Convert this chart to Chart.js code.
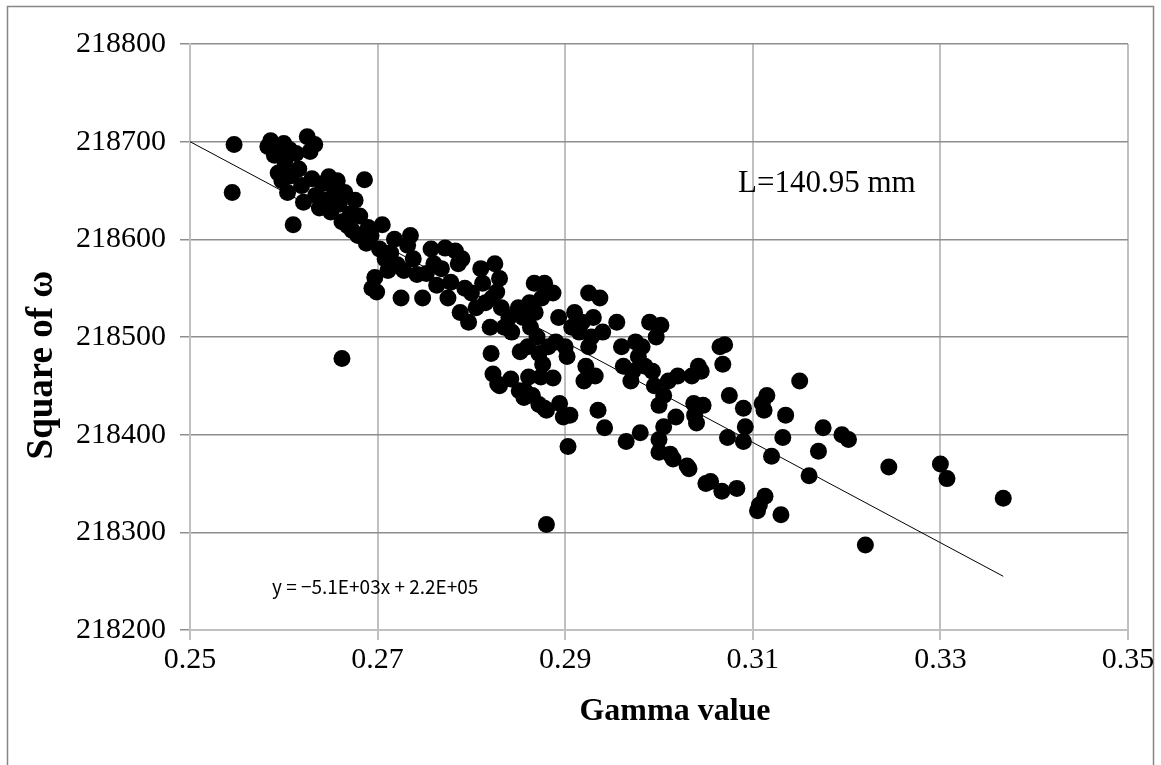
<!DOCTYPE html>
<html>
<head>
<meta charset="utf-8">
<script src="https://cdn.jsdelivr.net/npm/chart.js@4"></script>
<style>
  body { margin: 0; background: #fff; }
  #wrap { width: 1161px; height: 765px; }
</style>
</head>
<body>
<div id="wrap"><canvas id="chart" width="1161" height="765"></canvas></div>
<script>
// gamma value (x) and square of omega (y)
const gammaValues = [
  0.2547, 0.2545, 0.2583, 0.2586, 0.2590, 0.2594, 0.2598, 0.2600, 0.2601, 0.2604,
  0.2606, 0.2608, 0.2610, 0.2613, 0.2616, 0.2619, 0.2621, 0.2625, 0.2628, 0.2630,
  0.2633, 0.2634, 0.2638, 0.2641, 0.2645, 0.2648, 0.2650, 0.2654, 0.2657, 0.2659,
  0.2662, 0.2662, 0.2665, 0.2668, 0.2671, 0.2673, 0.2676, 0.2679, 0.2681, 0.2686,
  0.2688, 0.2690, 0.2693, 0.2694, 0.2697, 0.2699, 0.2702, 0.2705, 0.2708, 0.2711,
  0.2714, 0.2718, 0.2721, 0.2725, 0.2728, 0.2732, 0.2735, 0.2738, 0.2742, 0.2748,
  0.2752, 0.2757, 0.2760, 0.2763, 0.2768, 0.2772, 0.2775, 0.2778, 0.2783, 0.2786,
  0.2790, 0.2788, 0.2793, 0.2797, 0.2800, 0.2805, 0.2810, 0.2812, 0.2815, 0.2820,
  0.2822, 0.2825, 0.2827, 0.2830, 0.2832, 0.2835, 0.2821, 0.2823, 0.2828, 0.2830,
  0.2842, 0.2840, 0.2843, 0.2851, 0.2856, 0.2850, 0.2852, 0.2855, 0.2857, 0.2861,
  0.2860, 0.2862, 0.2863, 0.2865, 0.2867, 0.2868, 0.2870, 0.2872, 0.2876, 0.2875,
  0.2874, 0.2878, 0.2878, 0.2880, 0.2882, 0.2887, 0.2887, 0.2890, 0.2893, 0.2894,
  0.2898, 0.2900, 0.2902, 0.2903, 0.2905, 0.2907, 0.2910, 0.2915, 0.2918, 0.2920,
  0.2922, 0.2925, 0.2925, 0.2928, 0.2930, 0.2932, 0.2935, 0.2937, 0.2940, 0.2942,
  0.2955, 0.2960, 0.2962, 0.2965, 0.2970, 0.2972, 0.2975, 0.2978, 0.2980, 0.2982,
  0.2985, 0.2990, 0.2993, 0.2995, 0.2997, 0.3000, 0.3000, 0.3000, 0.3002, 0.3005,
  0.3005, 0.3010, 0.3012, 0.3015, 0.3018, 0.3020, 0.3030, 0.3032, 0.3035, 0.3037,
  0.3038, 0.3040, 0.3042, 0.3045, 0.3047, 0.3050, 0.3055, 0.3065, 0.3067, 0.3068,
  0.3070, 0.3073, 0.3075, 0.3083, 0.3090, 0.3092, 0.3090, 0.3105, 0.3107, 0.3110,
  0.3112, 0.3113, 0.3115, 0.3120, 0.3130, 0.3132, 0.3135, 0.3150, 0.3160, 0.3170,
  0.3175, 0.3195, 0.3202, 0.3220, 0.3245, 0.3300, 0.3307, 0.3367, 0.2880, 0.2872
];
const omegaSquared = [
  218697, 218648, 218695, 218701, 218686, 218668, 218660, 218698, 218680, 218648,
  218692, 218665, 218615, 218688, 218672, 218655, 218638, 218705, 218690, 218662,
  218697, 218645, 218632, 218657, 218640, 218664, 218628, 218648, 218660, 218636,
  218618, 218478, 218648, 218614, 218626, 218609, 218640, 218604, 218624, 218661,
  218596, 218612, 218604, 218550, 218561, 218546, 218590, 218615, 218580, 218568,
  218586, 218600, 218574, 218540, 218568, 218594, 218604, 218580, 218564, 218540,
  218565, 218590, 218575, 218553, 218570, 218591, 218540, 218556, 218588, 218575,
  218580, 218525, 218550, 218515, 218545, 218530, 218570, 218555, 218535, 218510,
  218540, 218575, 218546, 218560, 218530, 218510, 218483, 218462, 218452, 218450,
  218457, 218520, 218505, 218445, 218438, 218530, 218485, 218520, 218445, 218459,
  218490, 218535, 218510, 218440, 218555, 218525, 218500, 218483, 218472, 218540,
  218459, 218555, 218427, 218425, 218490, 218458, 218545, 218495, 218520, 218432,
  218418, 218490, 218480, 218388, 218420, 218510, 218525, 218505, 218515, 218455,
  218470, 218545, 218490, 218500, 218520, 218460, 218425, 218540, 218505, 218407,
  218515, 218490, 218470, 218393, 218455, 218465, 218495, 218480, 218402, 218490,
  218470, 218515, 218465, 218450, 218500, 218430, 218395, 218382, 218512, 218440,
  218408, 218455, 218380, 218375, 218418, 218460, 218368, 218365, 218460, 218432,
  218420, 218412, 218470, 218465, 218430, 218350, 218352, 218490, 218342, 218472,
  218492, 218397, 218440, 218345, 218427, 218408, 218393, 218322, 218328, 218432,
  218425, 218337, 218440, 218378, 218318, 218397, 218420, 218455, 218358, 218383,
  218407, 218400, 218395, 218287, 218367, 218370, 218355, 218335, 218308, 218431
];
// linear trend line end points
const trendX = [0.25, 0.3367];
const trendY = [218700, 218255];

const xTicks = [0.25, 0.27, 0.29, 0.31, 0.33, 0.35];
const yTicks = [218200, 218300, 218400, 218500, 218600, 218700, 218800];

const serif = '"Liberation Serif", "Times New Roman", serif';

const scatterData = gammaValues.map((g, i) => ({ x: g, y: omegaSquared[i] }));
const trendData = trendX.map((t, i) => ({ x: t, y: trendY[i] }));

const decorPlugin = {
  id: 'decor',
  beforeDraw(chart) {
    const ctx = chart.ctx;
    ctx.save();
    ctx.fillStyle = '#fff';
    ctx.fillRect(0, 0, chart.width, chart.height);
    ctx.strokeStyle = '#868686';
    ctx.lineWidth = 1.5;
    ctx.strokeRect(7.5, 6.5, 1146, 770);
    ctx.restore();
  },
  afterDraw(chart) {
    const ctx = chart.ctx;
    ctx.save();
    ctx.fillStyle = '#000';
    ctx.textBaseline = 'middle';

    ctx.font = 'bold 32px ' + serif;
    ctx.textAlign = 'center';
    ctx.fillText('Gamma value', 675, 712);

    ctx.save();
    ctx.translate(42, 365);
    ctx.rotate(-Math.PI / 2);
    ctx.font = 'bold 37px ' + serif;
    ctx.fillText('Square of ω', 0, 0);
    ctx.restore();

    ctx.textAlign = 'left';
    ctx.font = '31px ' + serif;
    ctx.fillText('L=140.95 mm', 738, 184);

    ctx.font = '19px "Noto Sans CJK JP", "DejaVu Sans", sans-serif';
    ctx.fillText('y = \u22125.1E+03x + 2.2E+05', 272, 587);
    ctx.restore();
  }
};

new Chart(document.getElementById('chart'), {
  data: {
    datasets: [
      {
        type: 'scatter',
        label: 'Square of ω',
        data: scatterData,
        backgroundColor: '#000',
        borderColor: '#000',
        pointRadius: 8.5,
        pointHoverRadius: 8.5,
        borderWidth: 0
      },
      {
        type: 'line',
        label: 'Linear',
        data: trendData,
        borderColor: '#000',
        borderWidth: 1,
        pointRadius: 0,
        fill: false
      }
    ]
  },
  options: {
    responsive: false,
    animation: false,
    devicePixelRatio: 1,
    layout: { padding: { left: 0, top: 44, right: 33, bottom: 0 } },
    plugins: {
      legend: { display: false },
      tooltip: { enabled: false }
    },
    scales: {
      x: {
        type: 'linear',
        min: 0.25,
        max: 0.35,
        afterBuildTicks(scale) {
          scale.ticks = xTicks.map((v) => ({ value: v }));
        },
        afterFit(scale) {
          scale.height = 765 - 630;
        },
        ticks: {
          color: '#000',
          font: { family: serif, size: 30 },
          padding: 2,
          maxRotation: 0,
          callback: (v) => v.toFixed(2)
        },
        grid: { color: '#c0c0c0', lineWidth: 2, tickLength: 10 },
        border: { color: '#c0c0c0', width: 2 }
      },
      y: {
        type: 'linear',
        min: 218200,
        max: 218800,
        afterBuildTicks(scale) {
          scale.ticks = yTicks.map((v) => ({ value: v }));
        },
        afterFit(scale) {
          scale.width = 190;
        },
        ticks: {
          color: '#000',
          font: { family: serif, size: 30 },
          padding: 14,
          callback: (v) => String(v)
        },
        grid: { color: '#8e8e8e', lineWidth: 1.5, tickLength: 10 },
        border: { color: '#c0c0c0', width: 2 }
      }
    }
  },
  plugins: [decorPlugin]
});
</script>
</body>
</html>
